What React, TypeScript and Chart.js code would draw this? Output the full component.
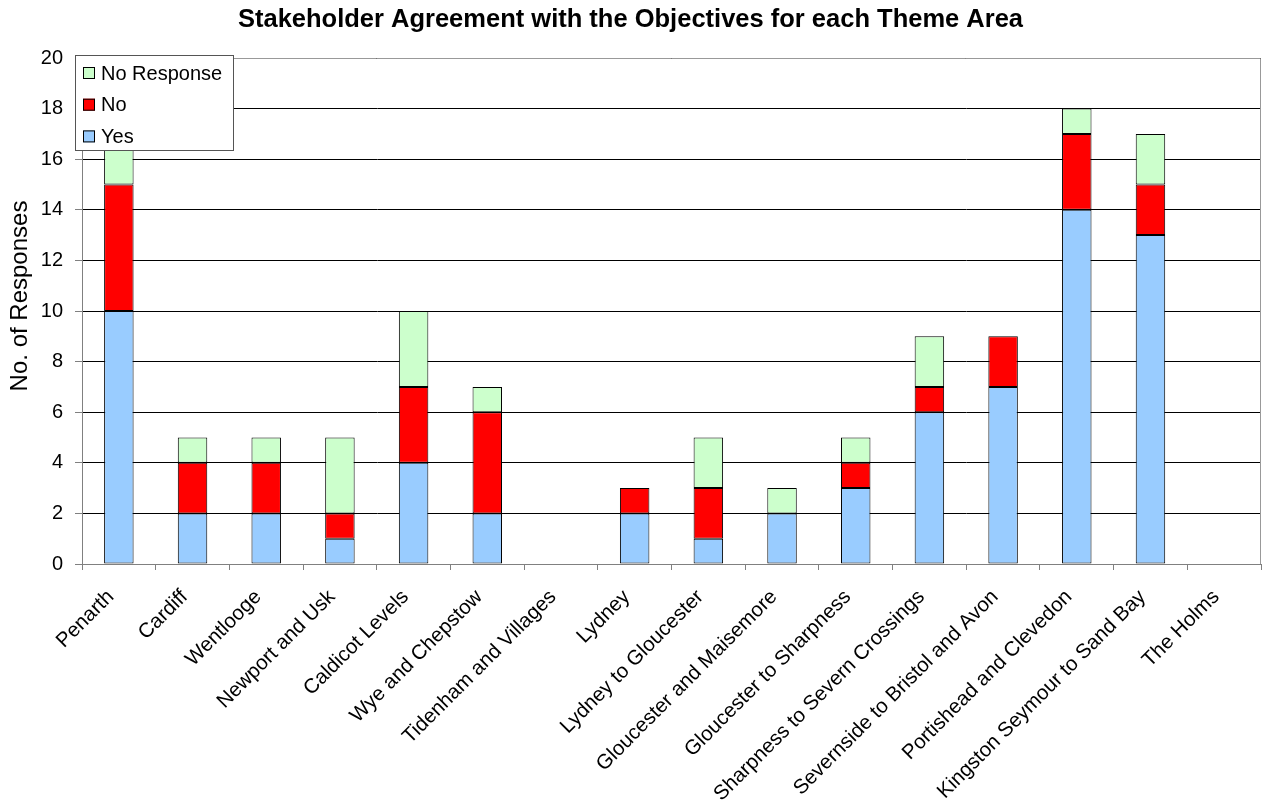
import React, { useEffect, useRef } from "react";
import { Chart, registerables } from "chart.js";

Chart.register(...registerables);

const categories = [
  "Penarth",
  "Cardiff",
  "Wentlooge",
  "Newport and Usk",
  "Caldicot Levels",
  "Wye and Chepstow",
  "Tidenham and Villages",
  "Lydney",
  "Lydney to Gloucester",
  "Gloucester and Maisemore",
  "Gloucester to Sharpness",
  "Sharpness to Severn Crossings",
  "Severnside to Bristol and Avon",
  "Portishead and Clevedon",
  "Kingston Seymour to Sand Bay",
  "The Holms",
];

const yesValues = [10, 2, 2, 1, 4, 2, 0, 2, 1, 2, 3, 6, 7, 14, 13, 0];
const noValues = [5, 2, 2, 1, 3, 4, 0, 1, 2, 0, 1, 1, 2, 3, 2, 0];
const noResponseValues = [2, 1, 1, 3, 3, 1, 0, 0, 2, 1, 1, 2, 0, 1, 2, 0];

const yTicks = [0, 2, 4, 6, 8, 10, 12, 14, 16, 18, 20];

const chartTitle = "Stakeholder Agreement with the Objectives for each Theme Area";
const yAxisTitle = "No. of Responses";

const FONT = "'Liberation Sans', Arial, sans-serif";

const plotBorderPlugin = {
  id: "plotBorder",
  afterDatasetsDraw(chart: any) {
    const { ctx, chartArea } = chart;
    ctx.save();
    ctx.strokeStyle = "#999999";
    ctx.lineWidth = 1;
    ctx.beginPath();
    ctx.moveTo(chartArea.left, chartArea.top + 0.5);
    ctx.lineTo(chartArea.right - 0.5, chartArea.top + 0.5);
    ctx.lineTo(chartArea.right - 0.5, chartArea.bottom);
    ctx.stroke();
    ctx.restore();
  },
};

const yTitlePlugin = {
  id: "yTitle",
  afterDraw(chart: any) {
    const { ctx } = chart;
    ctx.save();
    ctx.translate(20, 296);
    ctx.rotate(-Math.PI / 2);
    ctx.font = "24px " + FONT;
    ctx.fillStyle = "#000000";
    ctx.textAlign = "center";
    ctx.textBaseline = "middle";
    ctx.fillText(yAxisTitle, 0, 0);
    ctx.restore();
  },
};

const boxLegendPlugin = {
  id: "boxLegend",
  afterDraw(chart: any) {
    const { ctx } = chart;
    const ds = chart.data.datasets.slice().reverse();
    const x0 = 75;
    const y0 = 55;
    const w = 158;
    const h = 95;
    ctx.save();
    ctx.fillStyle = "#ffffff";
    ctx.fillRect(x0, y0, w, h);
    ctx.strokeStyle = "#555555";
    ctx.lineWidth = 1;
    ctx.strokeRect(x0 + 0.5, y0 + 0.5, w, h);
    ctx.font = "20px " + FONT;
    ctx.textBaseline = "middle";
    ds.forEach((d: any, i: number) => {
      const cy = y0 + 18 + i * 31.7;
      ctx.fillStyle = d.backgroundColor;
      ctx.fillRect(x0 + 8, cy - 6, 12, 12);
      ctx.strokeStyle = "#000000";
      ctx.strokeRect(x0 + 8.5, cy - 5.5, 11, 11);
      ctx.fillStyle = "#000000";
      ctx.fillText(d.label, x0 + 26, cy + 1);
    });
    ctx.restore();
  },
};

export default function App() {
  const canvasRef = useRef<HTMLCanvasElement | null>(null);

  useEffect(() => {
    if (!canvasRef.current) return;
    const nz = (arr: number[]) => arr.map((v) => (v === 0 ? null : v));
    const barStyle = {
      borderColor: "#000000",
      borderWidth: 1,
      borderSkipped: false,
    };
    const chart = new Chart(canvasRef.current, {
      type: "bar",
      data: {
        labels: categories,
        datasets: [
          { label: "Yes", data: nz(yesValues), backgroundColor: "#99CCFF", ...barStyle },
          { label: "No", data: nz(noValues), backgroundColor: "#FF0000", ...barStyle },
          { label: "No Response", data: nz(noResponseValues), backgroundColor: "#CCFFCC", ...barStyle },
        ] as any,
      },
      options: {
        animation: false,
        responsive: false,
        maintainAspectRatio: false,
        layout: { padding: { left: 0, right: 2, top: 0, bottom: 0 } },
        datasets: {
          bar: { barPercentage: 0.4, categoryPercentage: 1 },
        } as any,
        plugins: {
          legend: { display: false },
          tooltip: { enabled: false },
          title: {
            display: true,
            text: chartTitle,
            color: "#000000",
            font: { family: FONT, size: 25.5, weight: "bold" },
            padding: { top: 5, bottom: 22.4 },
          },
        },
        scales: {
          x: {
            stacked: true,
            afterFit: (scale: any) => {
              scale.height = 241;
            },
            grid: {
              offset: true,
              drawOnChartArea: false,
              drawTicks: true,
              tickLength: 6,
              color: "#808080",
            },
            border: { color: "#808080" },
            ticks: {
              color: "#000000",
              font: { family: FONT, size: 20.5 },
              maxRotation: 45,
              minRotation: 45,
              autoSkip: false,
              padding: 15,
              labelOffset: -8,
            },
          },
          y: {
            stacked: true,
            min: 0,
            max: 20,
            afterFit: (scale: any) => {
              scale.width = 82;
            },
            afterBuildTicks: (axis: any) => {
              axis.ticks = yTicks.map((v) => ({ value: v }));
            },
            grid: {
              color: "#000000",
              tickLength: 7,
              tickColor: "#808080",
            },
            border: { color: "#808080" },
            ticks: {
              color: "#000000",
              font: { family: FONT, size: 20 },
              padding: 12,
            },
            title: { display: false },
          },
        },
      },
      plugins: [plotBorderPlugin, boxLegendPlugin, yTitlePlugin],
    });
    return () => chart.destroy();
  }, []);

  return (
    <div
      style={{
        position: "fixed",
        left: 0,
        top: 0,
        width: 1263,
        height: 805,
        background: "#ffffff",
      }}
    >
      <canvas ref={canvasRef} width={1263} height={805} />
    </div>
  );
}
